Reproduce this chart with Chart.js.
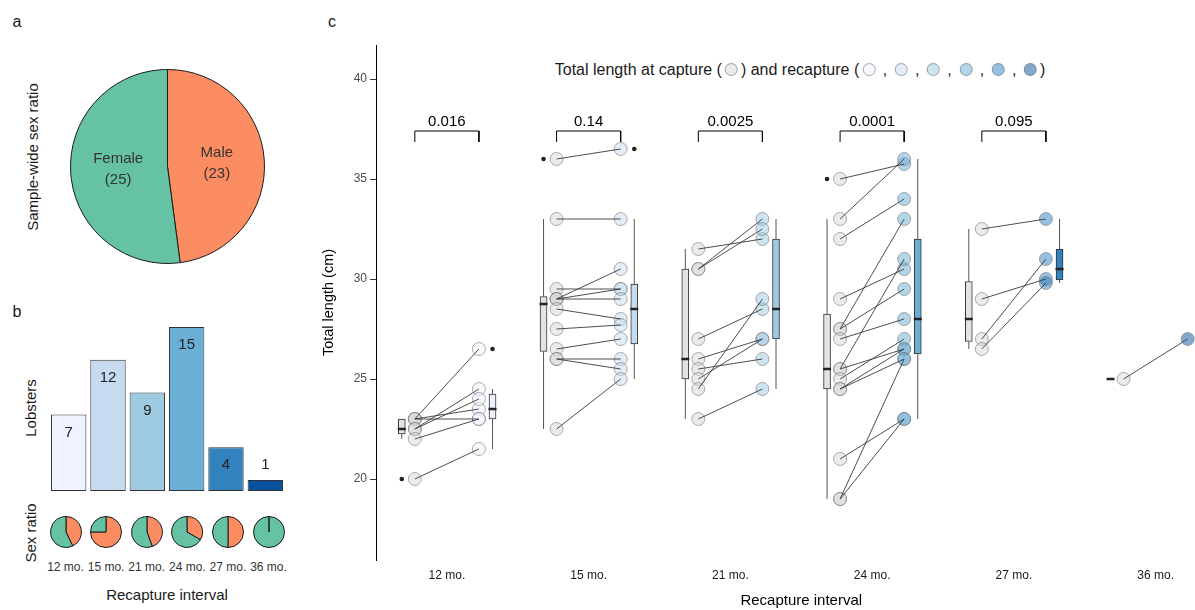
<!DOCTYPE html>
<html>
<head>
<meta charset="utf-8">
<script src="https://cdn.jsdelivr.net/npm/chart.js@4.4.1/dist/chart.umd.min.js"></script>
<style>
html, body { margin: 0; padding: 0; background: #fff; overflow: hidden; width: 1195px; height: 610px; }
body { position: relative; font-family: "Liberation Sans", Arial, sans-serif; color: #1a1a1a; }
canvas { position: absolute; }
.lbl { position: absolute; white-space: nowrap; transform: translate(-50%, -50%); }
.rot { transform: translate(-50%, -50%) rotate(-90deg); }
.dot { display: inline-block; width: 11px; height: 11px; border-radius: 50%; border: 1px solid rgba(120,120,120,0.6); vertical-align: -1px; margin: 0 3px; }
</style>
</head>
<body>
<div class="lbl" style="left:17px;top:22px;font-size:16px;">a</div>
<div class="lbl" style="left:17px;top:312px;font-size:16px;">b</div>
<div class="lbl" style="left:332px;top:22px;font-size:16px;">c</div>
<div class="lbl rot" style="left:32px;top:157px;font-size:15px;">Sample-wide sex ratio</div>
<div class="lbl rot" style="left:30px;top:408px;font-size:15px;">Lobsters</div>
<div class="lbl rot" style="left:30px;top:533px;font-size:15px;">Sex ratio</div>
<div class="lbl" style="left:167px;top:594px;font-size:15px;">Recapture interval</div>
<div id="legend" class="lbl" style="left:800px;top:70px;font-size:16px;"></div>

<canvas id="pieA" width="201" height="201" style="left:67px;top:66px;"></canvas>
<canvas id="bars" width="255" height="190" style="left:40px;top:310px;"></canvas>
<canvas id="main" width="934" height="610" style="left:300px;top:0px;"></canvas>

<script>
// data
const intervals = ['12 mo.', '15 mo.', '21 mo.', '24 mo.', '27 mo.', '36 mo.'];
const lobsters = [7, 12, 9, 15, 4, 1];
const females = [4, 3, 5, 10, 2, 1];
const males = [3, 9, 4, 5, 2, 0];
const sexLabels = ['Male', 'Female'];
const sexTotals = [23, 25];
const pValues = ['0.016', '0.14', '0.0025', '0.0001', '0.095'];
const yTicks = [20, 25, 30, 35, 40];

// total length (cm), capture and recapture, paired by index
const capture12 = [23, 23, 23, 22.5, 22.5, 22, 20];
const recapture12 = [26.5, 23.5, 23, 24.5, 24, 23, 21.5];
const capture15 = [36, 33, 29.5, 29, 29, 29, 28.5, 27.5, 26.5, 26, 26, 22.5];
const recapture15 = [36.5, 33, 29.5, 30.5, 29.5, 29, 28, 27.7, 27, 26, 25.5, 25];
const capture21 = [31.5, 30.5, 30.5, 27, 26, 25.5, 25, 24.5, 23];
const recapture21 = [32, 33, 32.5, 28.5, 27, 26, 27, 29, 24.5];
const capture24 = [35, 33, 32, 29, 27.5, 27.5, 27, 25.5, 25.5, 25, 24.5, 24.5, 21, 19, 19];
const recapture24 = [35.75, 36, 34, 30.5, 33, 29.5, 28, 31, 26.5, 27, 26.5, 26, 23, 23, 26];
const capture27 = [32.5, 29, 27, 26.5];
const recapture27 = [33, 30, 31, 29.8];
const capture36 = [25];
const recapture36 = [27];

const captures = [capture12, capture15, capture21, capture24, capture27, capture36];
const recaptures = [recapture12, recapture15, recapture21, recapture24, recapture27, recapture36];

const blues = ['#eff3ff', '#c6dbef', '#9ecae1', '#6baed6', '#3182bd', '#08519c'];
const sexColors = ['#fc8d62', '#66c2a5'];

Chart.defaults.font.family = '"Liberation Sans", Arial, sans-serif';
Chart.defaults.animation = false;
Chart.defaults.plugins.legend.display = false;
Chart.defaults.plugins.tooltip.enabled = false;

const alpha = (hex, a) => {
    const n = parseInt(hex.slice(1), 16);
    return `rgba(${n >> 16},${(n >> 8) & 255},${n & 255},${a})`;
};
const captureFill = 'rgba(215,215,215,0.5)';
const pointEdge = 'rgba(110,110,110,0.55)';

// legend line above panel c
const dot = c => `<span class="dot" style="background:${c}"></span>`;
document.getElementById('legend').innerHTML =
    'Total length at capture (' + dot(captureFill) + ') and recapture (' +
    blues.map(c => dot(alpha(c, 0.5))).join(' , ') + ')';

// panel b tick labels
intervals.forEach((lab, i) => {
    const d = document.createElement('div');
    d.className = 'lbl';
    d.style.cssText = `left:${65.5 + i * 40.6}px;top:567px;font-size:12px;color:#333;`;
    d.textContent = lab;
    document.body.appendChild(d);
});

// panel a
const pieLabels = {
    id: 'pieLabels',
    afterDatasetsDraw(chart) {
        const ctx = chart.ctx;
        const arcs = chart.getDatasetMeta(0).data;
        ctx.save();
        ctx.font = '15px "Liberation Sans", Arial';
        ctx.fillStyle = '#333';
        ctx.textAlign = 'center';
        ctx.textBaseline = 'middle';
        arcs.forEach((arc, i) => {
            const mid = (arc.startAngle + arc.endAngle) / 2;
            const r = arc.outerRadius * 0.51;
            const x = arc.x + Math.cos(mid) * r;
            const y = arc.y + Math.sin(mid) * r;
            ctx.fillText(sexLabels[i], x, y - 10.5);
            ctx.fillText(`(${sexTotals[i]})`, x, y + 10.5);
        });
        ctx.restore();
    }
};

new Chart(document.getElementById('pieA'), {
    type: 'pie',
    data: {
        labels: sexLabels,
        datasets: [{ data: sexTotals, backgroundColor: sexColors, borderColor: '#1a1a1a', borderWidth: 1 }]
    },
    options: { responsive: false, layout: { padding: 3 } },
    plugins: [pieLabels]
});

// panel b bars
const barLabels = {
    id: 'barLabels',
    afterDatasetsDraw(chart) {
        const ctx = chart.ctx;
        const y = chart.scales.y;
        ctx.save();
        ctx.font = '15px "Liberation Sans", Arial';
        ctx.fillStyle = '#222';
        ctx.textAlign = 'center';
        ctx.textBaseline = 'middle';
        chart.getDatasetMeta(0).data.forEach((bar, i) => {
            const v = lobsters[i];
            ctx.fillText(String(v), bar.x, y.getPixelForValue(Math.max(v - 1.65, 2.35)));
        });
        ctx.restore();
    }
};

new Chart(document.getElementById('bars'), {
    type: 'bar',
    data: {
        labels: intervals,
        datasets: [{
            data: lobsters,
            backgroundColor: blues,
            borderColor: '#333',
            borderWidth: 1,
            borderSkipped: false,
            categoryPercentage: 1,
            barPercentage: 0.9
        }]
    },
    options: {
        responsive: false,
        layout: { padding: { left: 9, right: 10, top: 6, bottom: 9 } },
        scales: { x: { display: false }, y: { display: false, min: 0, max: 16 } }
    },
    plugins: [barLabels]
});

// panel b small pies
intervals.forEach((lab, i) => {
    const c = document.createElement('canvas');
    c.width = 34; c.height = 34;
    c.style.left = (48.5 + i * 40.6) + 'px';
    c.style.top = '515px';
    document.body.appendChild(c);
    new Chart(c, {
        type: 'pie',
        data: {
            labels: sexLabels,
            datasets: [{ data: [males[i], females[i]], backgroundColor: sexColors, borderColor: '#1a1a1a', borderWidth: 1 }]
        },
        options: { responsive: false, layout: { padding: 1 } }
    });
});

// panel c
const quantile = (s, p) => {
    const h = (s.length - 1) * p, lo = Math.floor(h);
    return s[lo] + (h - lo) * ((s[Math.min(lo + 1, s.length - 1)]) - s[lo]);
};
const boxStats = arr => {
    const s = [...arr].sort((a, b) => a - b);
    const q1 = quantile(s, 0.25), med = quantile(s, 0.5), q3 = quantile(s, 0.75);
    const iqr = q3 - q1;
    const inside = s.filter(v => v >= q1 - 1.5 * iqr && v <= q3 + 1.5 * iqr);
    return { q1, med, q3, lo: inside[0], hi: inside[inside.length - 1], out: s.filter(v => !inside.includes(v)) };
};

const capOffset = -0.226, recOffset = 0.226;
const capBoxOffset = -0.318, recBoxOffset = 0.322;
const bracketTop = 37.4, bracketFoot = 36.85;

const capStats = captures.map(boxStats);
const recStats = recaptures.map(boxStats);

const boxData = (stats, off) => stats.map((s, i) => ({ x: i + 1 + off, y: [s.q1, s.q3] }));
const whiskerData = [];
const medianData = [];
const outlierData = [];
[[capStats, capBoxOffset], [recStats, recBoxOffset]].forEach(([stats, off]) => {
    stats.forEach((s, i) => {
        const x = i + 1 + off;
        whiskerData.push({ x, y: s.lo }, { x, y: s.q1 }, { x, y: null }, { x, y: s.q3 }, { x, y: s.hi }, { x, y: null });
        medianData.push({ x, y: s.med });
        s.out.forEach(v => outlierData.push({ x, y: v }));
    });
});

const capPoints = [], recPoints = [], recPointColors = [], pairLines = [];
captures.forEach((cap, i) => {
    cap.forEach((v, j) => {
        const r = recaptures[i][j];
        capPoints.push({ x: i + 1 + capOffset, y: v });
        recPoints.push({ x: i + 1 + recOffset, y: r });
        recPointColors.push(alpha(blues[i], 0.5));
        pairLines.push({ x: i + 1 + capOffset, y: v }, { x: i + 1 + recOffset, y: r }, { x: i + 1, y: null });
    });
});

const bracketData = [];
pValues.forEach((p, i) => {
    const a = i + 1 + capOffset, b = i + 1 + recOffset;
    bracketData.push({ x: a, y: bracketFoot }, { x: a, y: bracketTop }, { x: b, y: bracketTop }, { x: b, y: bracketFoot }, { x: b, y: null });
});

const bracketLabels = {
    id: 'bracketLabels',
    afterDatasetsDraw(chart) {
        const ctx = chart.ctx, xs = chart.scales.x, ys = chart.scales.y;
        ctx.save();
        ctx.font = '15px "Liberation Sans", Arial';
        ctx.fillStyle = '#000';
        ctx.textAlign = 'center';
        ctx.textBaseline = 'alphabetic';
        pValues.forEach((p, i) => {
            ctx.fillText(p, xs.getPixelForValue(i + 1), ys.getPixelForValue(bracketTop) - 5);
        });
        ctx.restore();
    }
};

new Chart(document.getElementById('main'), {
    type: 'scatter',
    data: {
        datasets: [
            { type: 'bar', data: boxData(capStats, capBoxOffset), backgroundColor: '#e3e3e3', borderColor: '#333', borderWidth: 1, borderSkipped: false, barThickness: 7, grouped: false, order: 7 },
            { type: 'bar', data: boxData(recStats, recBoxOffset), backgroundColor: blues, borderColor: '#333', borderWidth: 1, borderSkipped: false, barThickness: 7, grouped: false, order: 7 },
            { type: 'line', data: whiskerData, borderColor: '#555', borderWidth: 1, pointRadius: 0, order: 8 },
            { data: medianData, pointStyle: 'line', pointRadius: 4, borderColor: '#222', borderWidth: 2.5, order: 1 },
            { data: outlierData, pointRadius: 2.3, backgroundColor: '#222', borderWidth: 0, order: 5 },
            { data: capPoints, pointRadius: 6.5, backgroundColor: captureFill, borderColor: pointEdge, borderWidth: 1, order: 4 },
            { data: recPoints, pointRadius: 6.5, backgroundColor: recPointColors, borderColor: pointEdge, borderWidth: 1, order: 3 },
            { type: 'line', data: pairLines, borderColor: '#3a3a3a', borderWidth: 0.9, pointRadius: 0, order: 2 },
            { type: 'line', data: bracketData, borderColor: '#000', borderWidth: 1, pointRadius: 0, order: 0 }
        ]
    },
    options: {
        responsive: false,
        layout: { padding: { top: 45, right: 0, left: 0, bottom: 0 } },
        scales: {
            x: {
                type: 'linear', min: 0.5, max: 6.5, offset: false,
                afterFit: s => { s.height = 50; },
                afterBuildTicks: s => { s.ticks = intervals.map((_, i) => ({ value: i + 1 })); },
                ticks: { callback: v => intervals[Math.round(v) - 1], color: '#1a1a1a', font: { size: 12 }, padding: 8, maxRotation: 0 },
                grid: { display: false, drawTicks: false, offset: false },
                border: { display: false },
                title: { display: true, text: 'Recapture interval', color: '#000', font: { size: 15 }, padding: 0 }
            },
            y: {
                min: 15.95, max: 41.7,
                afterFit: s => { s.width = 76; },
                afterBuildTicks: s => { s.ticks = yTicks.map(v => ({ value: v })); },
                ticks: { color: '#4d4d4d', font: { size: 12 }, padding: 3 },
                grid: { display: true, drawOnChartArea: false, tickLength: 6, color: '#333' },
                border: { display: true, color: '#000', width: 1 },
                title: { display: true, text: 'Total length (cm)', color: '#000', font: { size: 14.5 }, padding: { top: 20, bottom: 0 } }
            }
        }
    },
    plugins: [bracketLabels]
});
</script>
</body>
</html>
